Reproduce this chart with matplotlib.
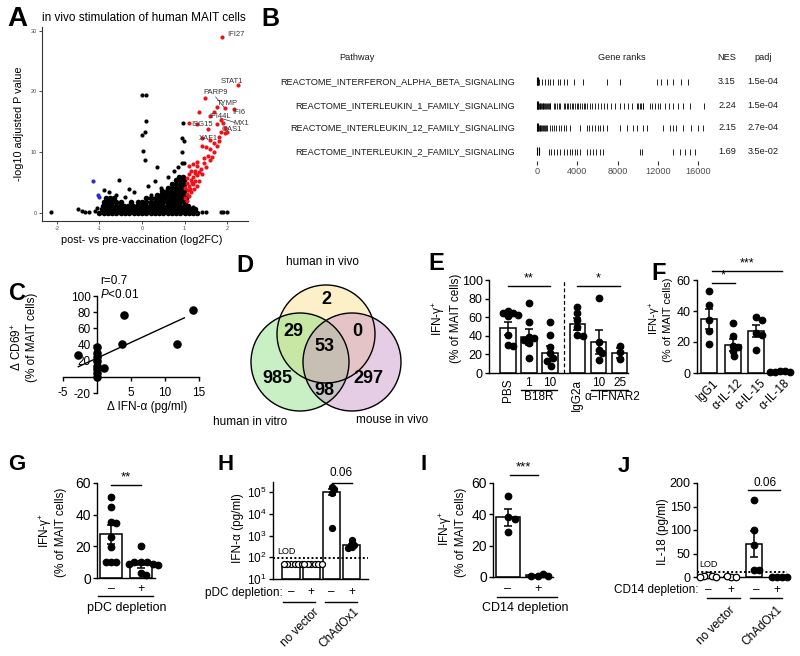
import numpy as np
import matplotlib
matplotlib.use('Agg')
import matplotlib.pyplot as plt
from matplotlib.patches import Circle

plt.rcParams['font.family'] = ['Liberation Sans', 'DejaVu Sans']
plt.rcParams['mathtext.fontset'] = 'custom'
plt.rcParams['mathtext.rm'] = 'Liberation Sans'
plt.rcParams['mathtext.it'] = 'Liberation Sans:italic'
plt.rcParams['mathtext.bf'] = 'Liberation Sans:bold'
plt.rcParams['axes.unicode_minus'] = False

# ================= DATA =================
# --- A: volcano ---
volc_up_x = [1.88, 2.25, 1.48, 1.75, 1.95, 2.15, 1.35, 1.10, 1.30, 1.60, 1.70, 1.75, 1.85, 1.90,
             1.95, 1.55, 1.85, 1.95, 2.00, 1.40, 1.60, 1.70, 1.80, 1.75, 1.60, 1.70, 1.65, 1.55,
             1.60, 1.45, 1.45, 1.30, 1.50, 1.20, 1.10, 1.15, 1.25, 1.35, 1.42, 1.30, 1.20, 1.10,
             1.05, 1.15, 1.25, 1.35, 1.05, 1.10, 1.20, 1.30, 1.02, 1.08, 1.15, 1.05, 1.10, 1.02,
             1.50, 1.80, 1.40, 1.25, 1.18, 1.38, 1.28, 1.12, 1.22, 1.06]
volc_up_y = [29.0, 21.0, 19.0, 17.5, 17.2, 17.1, 16.7, 14.8, 14.7, 15.9, 16.6, 14.6, 15.3, 14.8,
             14.0, 13.8, 13.4, 13.2, 13.3, 12.4, 12.0, 11.6, 11.8, 11.0, 10.5, 10.0, 9.3, 9.4,
             8.7, 9.0, 8.2, 7.8, 7.5, 8.0, 7.8, 7.0, 7.0, 6.8, 6.5, 6.2, 6.0, 6.5,
             5.8, 5.5, 5.3, 5.2, 5.0, 4.5, 4.8, 4.5, 4.2, 3.8, 3.5, 3.2, 2.8, 2.5,
             10.8, 12.5, 11.0, 6.6, 5.0, 7.2, 8.4, 4.0, 3.9, 2.0]
volc_dn_x = [-1.15, -1.03, -1.00]
volc_dn_y = [5.3, 3.0, 2.7]
volc_ns_x = [0.00, 0.10, 0.10, 0.06, 0.00, 0.03, 0.06, 0.97, 0.93, 0.98, 0.95, 0.93, 0.98,
             -0.55, 0.35, 0.30, 0.15, -0.30, -0.60, -0.90, -0.78, -0.20, 0.60, 0.75, 0.85,
             -2.15, -1.50, -1.42, -1.35, -1.25, -1.10, -1.05, 1.40, 1.50, 1.85, 1.90, 2.00,
             1.10, 1.20, -0.40, 0.45, 0.20]
volc_ns_y = [19.5, 19.5, 15.2, 13.3, 12.8, 10.2, 8.7, 14.8, 12.4, 11.8, 10.0, 8.3, 8.2,
             5.5, 7.5, 5.3, 4.5, 4.0, 3.0, 3.8, 3.5, 3.5, 6.0, 7.0, 7.6,
             0.1, 0.6, 0.3, 0.2, 0.1, 0.3, 0.8, 0.2, 0.1, 0.1, 0.2, 0.1,
             0.5, 1.0, 2.6, 4.2, 3.0]
# dense cloud of non-significant genes (read row by row)
cloud_x = [-1.0, -0.9, -0.8, -0.7, -0.6, -0.5, -0.4, -0.3, -0.2, -0.1, 0.0, 0.1, 0.2, 0.3, 0.4, 0.5,
           0.6, 0.7, 0.8, 0.9, 1.0, 1.1, 1.2, 1.3,
           -0.95, -0.85, -0.75, -0.65, -0.55, -0.45, -0.35, -0.25, -0.15, -0.05, 0.05, 0.15, 0.25,
           0.35, 0.45, 0.55, 0.65, 0.75, 0.85, 0.95, 1.05, 1.15, 1.25,
           -0.92, -0.82, -0.72, -0.62, -0.52, -0.42, -0.32, -0.22, -0.12, -0.02, 0.08, 0.18, 0.28,
           0.38, 0.48, 0.58, 0.68, 0.78, 0.88, 0.98, 1.08,
           -0.9, -0.8, -0.7, -0.6, -0.5, -0.25, -0.1, 0.0, 0.1, 0.2, 0.3, 0.4, 0.5, 0.6, 0.7, 0.8,
           0.9, 1.0,
           -0.85, -0.75, -0.65, 0.1, 0.22, 0.34, 0.45, 0.55, 0.65, 0.75, 0.85, 0.95, 1.03,
           0.35, 0.45, 0.55, 0.65, 0.75, 0.85, 0.95, 1.02,
           0.48, 0.58, 0.68, 0.78, 0.88, 0.98,
           0.6, 0.7, 0.8, 0.9, 0.99,
           0.7, 0.8, 0.9, 0.99,
           0.8, 0.9, 0.98,
           0.86, 0.96]
cloud_y = ([0.0] * 24 + [0.6] * 23 + [1.2] * 21 + [1.8] * 18 + [2.4] * 13 + [3.0] * 8 + [3.6] * 6 +
           [4.2] * 5 + [4.8] * 4 + [5.4] * 3 + [6.0] * 2)
gene_labels = ['IFI27', 'STAT1', 'PARP9', 'TYMP', 'IFI6', 'IFI44L', 'MX1', 'ISG15', 'OAS1', 'XAF1']
gene_label_x = [2.20, 2.10, 1.73, 2.00, 2.27, 1.83, 2.32, 1.40, 2.10, 1.55]
gene_label_y = [29.4, 21.6, 19.8, 18.0, 16.6, 15.9, 14.8, 14.6, 13.7, 12.3]

# --- B: GSEA table ---
pathways = ['REACTOME_INTERFERON_ALPHA_BETA_SIGNALING', 'REACTOME_INTERLEUKIN_1_FAMILY_SIGNALING',
            'REACTOME_INTERLEUKIN_12_FAMILY_SIGNALING', 'REACTOME_INTERLEUKIN_2_FAMILY_SIGNALING']
nes = ['3.15', '2.24', '2.15', '1.69']
padj = ['1.5e-04', '1.5e-04', '2.7e-04', '3.5e-02']
ranks_ifn = [0, 60, 120, 180, 500, 830, 1090, 1320, 1580, 2050, 2310, 2640, 2970, 3630, 4620, 6930,
             8250, 11880, 12280, 12870, 13530, 14350, 15020]
ranks_il1 = [0, 60, 120, 180, 250, 330, 420, 500, 560, 640, 720, 800, 880, 960, 1050, 1150, 1250, 1320,
             1650, 1800, 1950, 2150, 2310, 2640, 2800, 2970, 3100, 3300, 3465, 3600, 3800, 3950, 4100,
             4300, 4500, 4650, 4800, 5000, 5280, 5500, 5800, 6100, 6400, 6700, 7000, 7400, 7800, 8200,
             8600, 9000, 9400, 9900, 10065, 10200, 10350, 10500, 10560, 11200, 11400, 11700, 12000,
             12210, 12700, 13100, 13500, 14000, 14500, 15180, 16600, 16650, 16700]
ranks_il12 = [0, 80, 160, 250, 330, 420, 500, 600, 700, 800, 900, 990, 1320, 1500, 1700, 1900, 2150,
              2400, 2640, 2900, 3300, 4290, 4950, 5200, 5500, 5800, 6100, 6270, 6600, 6930, 8250, 8900,
              9570, 9900, 10560, 10900, 12540, 13200, 13530, 13860, 14520, 15350, 16000, 16500]
ranks_il2 = [0, 200, 1155, 1400, 1650, 1980, 2310, 2640, 2970, 3300, 3465, 3800, 4000, 4290, 4950,
             5300, 5600, 5900, 6270, 6600, 10230, 10400, 13530, 14190, 14700, 15180, 15680]
rank_ticks = [0, 4000, 8000, 12000, 16000]

# --- C: correlation ---
C_ifna = [-2.8, 0.0, 0.0, 0.0, 0.0, 0.0, 0.0, 0.0, 0.0, 1.0, 3.9, 3.7, 11.8, 14.1]
C_cd69 = [27, 37, 30, 25, 20, 13, 10, 5, 0, 11, 77, 41, 41, 83]
C_fit_x = [-2.75, 12.85]
C_fit_y = [12.5, 73.0]

# --- D: Venn ---
venn_sets = ['human in vivo', 'human in vitro', 'mouse in vivo']
venn_counts = {'100': 2, '110': 29, '101': 0, '111': 53, '010': 985, '011': 98, '001': 297}

# --- E ---
E_labels = ['PBS', '1', '10', 'IgG2a', '10', '25']
E_means = [48, 38.5, 21, 52.5, 33, 21.5]
E_sems = [7, 8.5, 7.5, 6.5, 13, 5]
E_points = [[67, 65, 64, 62.5, 61, 41, 30, 29], [75.7, 55, 39, 37.5, 35.7, 32, 16],
            [55, 41, 28, 21, 16, 12.5, 8], [71, 65, 57, 50, 41, 40], [81, 33, 25, 21, 14], [29, 23, 15]]

# --- F ---
F_labels = ['IgG1', 'α-IL-12', 'α-IL-15', 'α-IL-18']
F_means = [35, 18, 27, 1]
F_sems = [6.5, 4, 4, 0.3]
F_points = [[53, 44, 34, 27, 19], [32, 23.6, 17.6, 16.7, 14, 10.7], [36, 34, 25.7, 24.6, 15],
            [1.2, 1.0, 0.8, 0.5, 0.5]]

# --- G ---
G_labels = ['–', '+']
G_means = [27.5, 8.5]
G_sems = [6, 2]
G_points = [[51, 45, 35.5, 35, 26, 19.5, 10, 10, 10], [20, 10, 10, 10, 9, 9, 8, 3, 2]]

# --- H ---
H_labels = ['–', '+', '–', '+']
H_groups = ['no vector', 'ChAdOx1']
H_means = [50, 50, 105000, 360]
H_sems = [0, 0, 30000, 60]
H_points = [[50, 50, 50, 50, 50, 50], [50, 50, 50, 50, 50, 50], [170000, 140000, 90000, 2200],
            [600, 450, 350, 300, 280]]
H_open = [True, True, False, False]
H_lod = 90

# --- I ---
I_labels = ['–', '+']
I_means = [38, 1]
I_sems = [5.5, 0.4]
I_points = [[52, 38, 37, 29], [0.5, 2, 0.5, 0.5]]

# --- J ---
J_labels = ['–', '+', '–', '+']
J_groups = ['no vector', 'ChAdOx1']
J_means = [2, 0.5, 70, 0]
J_sems = [0, 0, 27, 0]
J_points = [[5, 3, 2, 0, 0], [0, 0, 2], [163, 100, 68, 15, 15], [0, 0, 0, 0]]
J_open = [True, True, False, False]
J_lod = 10

# ================= FIGURE =================
W, H = 800, 656
fig = plt.figure(figsize=(8, 6.56), dpi=100)


def add_ax(l, t, r, b):
    return fig.add_axes([l / W, 1 - b / H, (r - l) / W, (b - t) / H])


def ftext(x, y, s, **kw):
    kw.setdefault('ha', 'center')
    kw.setdefault('va', 'center')
    return fig.text(x / W, 1 - y / H, s, **kw)


def fline(x0, x1, y, lw=1.0, color='black'):
    fig.add_artist(plt.Line2D([x0 / W, x1 / W], [1 - y / H, 1 - y / H], lw=lw, color=color))


def prism_axes(ax, fs=9):
    for s in ['top', 'right']:
        ax.spines[s].set_visible(False)
    for s in ['left', 'bottom']:
        ax.spines[s].set_linewidth(1.0)
    ax.tick_params(axis='both', length=3, width=1.0, labelsize=fs, pad=1.5)


def swarm(ax, xc, vals, d, sep):
    placed, offs = [], []
    step = 0.2 * d
    cands = [0.0]
    for k in range(1, 60):
        cands += [k * step, -k * step]
    for v in vals:
        X, Y = ax.transData.transform((xc, v))
        X1, _ = ax.transData.transform((xc + 1, v))
        for c in cands:
            if all((X + c - px) ** 2 + (Y - py) ** 2 >= (sep * d) ** 2 for px, py in placed):
                break
        placed.append((X + c, Y))
        offs.append(c / (X1 - X))
    return np.array(offs)


def bar_panel(ax, xs, means, sems, pts, width, open_flags=None, dot=6.5, sep=0.85, bottom=0):
    for i, x in enumerate(xs):
        ax.bar(x, means[i] - bottom, width, bottom=bottom, facecolor='white', edgecolor='black',
               linewidth=1.1, zorder=2)
        offs = swarm(ax, x, pts[i], dot, sep)
        op = open_flags[i] if open_flags else False
        ax.scatter(x + offs, pts[i], s=(dot * 0.72) ** 2, facecolor='white' if op else 'black',
                   edgecolor='black', linewidths=0.9, zorder=3, clip_on=False)
        if sems[i] > 0:
            ax.errorbar(x, means[i], yerr=sems[i], fmt='none', ecolor='black', elinewidth=1.1,
                        capsize=3, capthick=1.1, zorder=4)


# ---------- Panel letters ----------
for L, x, y, fs in [('A', 17, 19, 20), ('B', 270, 19, 18), ('C', 17, 293, 17), ('D', 245, 265, 17),
                    ('E', 436, 264, 17), ('F', 659, 273, 17), ('G', 17, 465, 16), ('H', 226, 465, 16),
                    ('I', 424, 465, 16), ('J', 624, 466, 16)]:
    ftext(x, y, L, fontsize=fs, fontweight='bold')

# ---------- A ----------
axA = add_ax(42, 27, 248, 221)
axA.set_xlim(-2.35, 2.49)
axA.set_ylim(-1.3, 30.6)
axA.scatter(cloud_x, cloud_y, s=16, c='black', lw=0, zorder=2)
axA.scatter(volc_ns_x, volc_ns_y, s=9, c='black', lw=0, zorder=2)
axA.scatter(volc_up_x, volc_up_y, s=9, c='#E8141B', lw=0, zorder=3)
axA.scatter(volc_dn_x, volc_dn_y, s=9, c='#2B2BD0', lw=0, zorder=3)
for g, x, y in zip(gene_labels, gene_label_x, gene_label_y):
    axA.text(x, y, g, fontsize=5.5, color='#333333', ha='center', va='center', zorder=4)
axA.plot([1.73, 1.93], [19.1, 17.4], color='#333333', lw=0.5)
axA.plot([2.18, 1.85], [14.9, 15.6], color='#333333', lw=0.5)
for s in ['top', 'right']:
    axA.spines[s].set_visible(False)
for s in ['left', 'bottom']:
    axA.spines[s].set_color('#333333')
    axA.spines[s].set_linewidth(0.8)
axA.set_xticks([-2, -1, 0, 1, 2])
axA.set_yticks([0, 10, 20, 30])
axA.tick_params(length=2, width=0.6, color='#333333', labelsize=4, labelcolor='#4d4d4d', pad=1.5)
ftext(42, 18, 'in vivo stimulation of human MAIT cells', fontsize=8.5, ha='left')
ftext(142, 240, 'post- vs pre-vaccination (log2FC)', fontsize=7.8)
ftext(19, 124, '-log10 adjusted P value', fontsize=7.8, rotation=90)

# ---------- B ----------
row_y = [82, 106, 128, 152]
ftext(357, 58, 'Pathway', fontsize=6.6, color='#1a1a1a')
ftext(622, 58, 'Gene ranks', fontsize=6.6, color='#1a1a1a')
ftext(727, 58, 'NES', fontsize=6.6, color='#1a1a1a')
ftext(763, 58, 'padj', fontsize=6.6, color='#1a1a1a')
for i, y in enumerate(row_y):
    ftext(515, y, pathways[i], fontsize=6.6, ha='right', color='#1a1a1a')
    ftext(727, y, nes[i], fontsize=6.6, color='#1a1a1a')
    ftext(763, y, padj[i], fontsize=6.6, color='#1a1a1a')
axB = add_ax(530, 70, 705, 180)
per_px = 16000 / 161.0
axB.set_xlim(-7 * per_px, 16000 + 7 * per_px)
axB.set_ylim(180, 70)
axB.axis('off')
for y, rk in zip(row_y, [ranks_ifn, ranks_il1, ranks_il12, ranks_il2]):
    axB.vlines(rk, y - 3, y + 3, color='black', lw=0.6)
    axB.vlines(rk[:2], y - 5, y + 3, color='black', lw=0.8)
axB.vlines(rank_ticks, 161, 165, color='#333333', lw=0.8)
for t in rank_ticks:
    axB.text(t, 172, str(t), fontsize=6.6, color='#4d4d4d', ha='center', va='center')

# ---------- C ----------
axC = add_ax(63, 296, 199, 393)
axC.set_xlim(-5, 15)
axC.set_ylim(-20, 100)
axC.spines['left'].set_position(('data', 0))
axC.spines['bottom'].set_position(('data', 0))
prism_axes(axC, fs=8.5)
axC.set_xticks([-5, 5, 10, 15])
axC.set_yticks([-20, 20, 40, 60, 80, 100])
axC.tick_params(axis='x', pad=4)
axC.scatter(C_ifna, C_cd69, s=38, c='black', lw=0, zorder=3, clip_on=False)
axC.plot(C_fit_x, C_fit_y, color='black', lw=1.0)
ftext(100, 281, 'r=0.7', fontsize=8.5, ha='left')
ftext(100, 294, '$\\it{P}$<0.01', fontsize=8.5, ha='left')
ftext(147, 407, 'Δ IFN-α (pg/ml)', fontsize=8.5)
ftext(17, 347, 'Δ CD69$^{+}$', fontsize=8.5, rotation=90)
ftext(32, 337, '(% of MAIT cells)', fontsize=8.5, rotation=90)

# ---------- D ----------
axD = add_ax(210, 245, 440, 430)
axD.set_xlim(210, 440)
axD.set_ylim(430, 245)
axD.axis('off')
centres = [(326, 334), (300, 362), (352, 362)]
cols = ['#FBDC87', '#87DE7C', '#C890C8']
for (cx, cy), col in zip(centres, cols):
    axD.add_patch(Circle((cx, cy), 49, facecolor=col, alpha=0.45, edgecolor='none'))
for (cx, cy) in centres:
    axD.add_patch(Circle((cx, cy), 49, facecolor='none', edgecolor='black', lw=1.0))
pos_map = {'100': (326, 300), '110': (293, 332), '101': (357, 332), '111': (324, 347),
           '010': (277, 379), '011': (324, 391), '001': (368, 379)}
for k, v in venn_counts.items():
    axD.text(*pos_map[k], str(v), fontsize=13, fontweight='bold', ha='center', va='center')
ftext(323, 262, venn_sets[0], fontsize=8.5)
ftext(250, 422, venn_sets[1], fontsize=8.5)
ftext(392, 420, venn_sets[2], fontsize=8.5)

# ---------- E ----------
axE = add_ax(489, 280, 628, 373)
E_x = [0, 1, 2, 3.3, 4.3, 5.3]
axE.set_xlim(-0.9, 5.7)
axE.set_ylim(0, 100)
prism_axes(axE, fs=9)
axE.set_xticks([])
axE.set_yticks([0, 20, 40, 60, 80, 100])
bar_panel(axE, E_x, E_means, E_sems, E_points, 0.72, dot=6.5, sep=0.8)
axE.axvline(2.65, color='black', lw=0.9, ls=(0, (3, 2)))
axE.plot([0, 2], [93.5, 93.5], color='black', lw=1.0, clip_on=False)
axE.text(1, 95, '**', fontsize=9, ha='center', va='bottom')
axE.plot([3.3, 5.3], [93.5, 93.5], color='black', lw=1.0, clip_on=False)
axE.text(4.3, 95, '*', fontsize=9, ha='center', va='bottom')
ftext(508, 379, E_labels[0], fontsize=8.5, rotation=90, va='top')
ftext(577, 379, E_labels[3], fontsize=8.5, rotation=90, va='top')
for xp, lab in zip([528, 550, 599, 620], [E_labels[1], E_labels[2], E_labels[4], E_labels[5]]):
    ftext(xp, 383, lab, fontsize=8.5)
fline(521, 557, 390)
fline(591, 628, 390)
ftext(539, 397, 'B18R', fontsize=8.5)
ftext(612, 397, 'α−IFNAR2', fontsize=8.5)
ftext(439, 318, 'IFN-γ$^{+}$', fontsize=8.5, rotation=90)
ftext(456, 318, '(% of MAIT cells)', fontsize=8.5, rotation=90)

# ---------- F ----------
axF = add_ax(697, 280, 790, 373)
F_x = [0, 1, 2, 3]
axF.set_xlim(-0.5, 3.42)
axF.set_ylim(0, 60)
prism_axes(axF, fs=9)
axF.set_xticks([])
axF.set_yticks([0, 20, 40, 60])
bar_panel(axF, F_x, F_means, F_sems, F_points, 0.68, dot=6.5, sep=0.8)
axF.plot([0.13, 1.1], [58, 58], color='black', lw=1.0, clip_on=False)
axF.text(0.6, 59, '*', fontsize=9, ha='center', va='bottom')
axF.plot([0.13, 3.1], [65.5, 65.5], color='black', lw=1.0, clip_on=False)
axF.text(1.6, 66.5, '***', fontsize=9, ha='center', va='bottom')
for xp, lab in zip([713, 737, 760, 784], F_labels):
    ftext(xp, 377, lab, fontsize=8.5, rotation=45, ha='right', va='top', rotation_mode='anchor')
ftext(655, 318, 'IFN-γ$^{+}$', fontsize=8, rotation=90)
ftext(668, 320, '(% of MAIT cells)', fontsize=8, rotation=90)

# ---------- G ----------
axG = add_ax(97, 483, 155, 578)
axG.set_xlim(-0.47, 1.47)
axG.set_ylim(0, 60)
prism_axes(axG, fs=10)
axG.set_xticks([])
axG.set_yticks([0, 20, 40, 60])
bar_panel(axG, [0, 1], G_means, G_sems, G_points, 0.73, dot=6.5, sep=0.8)
axG.plot([0, 1], [58.5, 58.5], color='black', lw=1.0, clip_on=False)
axG.text(0.5, 59.5, '**', fontsize=9.5, ha='center', va='bottom')
ftext(111, 589, G_labels[0], fontsize=9)
ftext(141, 589, G_labels[1], fontsize=9)
fline(98, 153, 596)
ftext(127, 608, 'pDC depletion', fontsize=9)
ftext(46, 530, 'IFN-γ$^{+}$', fontsize=8.5, rotation=90)
ftext(61, 532, '(% of MAIT cells)', fontsize=8.5, rotation=90)

# ---------- H ----------
axH = add_ax(273, 482, 368, 579)
axH.set_yscale('log')
axH.set_xlim(-0.89, 3.8)
axH.set_ylim(10, 10 ** 5.46)
prism_axes(axH, fs=8.5)
axH.set_xticks([])
axH.set_yticks([10, 100, 1000, 1e4, 1e5])
axH.tick_params(axis='y', which='minor', length=1.5, width=0.6)
bar_panel(axH, [0, 1, 2, 3], H_means, H_sems, H_points, 0.85, open_flags=H_open, dot=6.0,
          sep=0.45, bottom=10)
axH.axhline(H_lod, color='black', lw=1.4, ls=(0, (1, 1.2)), zorder=5)
axH.text(-0.7, H_lod * 1.25, 'LOD', fontsize=6.5, ha='left', va='bottom')
axH.plot([2, 3], [10 ** 5.42, 10 ** 5.42], color='black', lw=1.0, clip_on=False)
ftext(341, 473, '0.06', fontsize=8.5)
for xp, lab in zip([291, 311, 331, 352], H_labels):
    ftext(xp, 592, lab, fontsize=8.5)
ftext(283, 593, 'pDC depletion:', fontsize=8.5, ha='right')
fline(283, 315, 602)
fline(325, 357, 602)
ftext(313, 606, H_groups[0], fontsize=8.5, rotation=45, ha='right', va='top', rotation_mode='anchor')
ftext(353, 606, H_groups[1], fontsize=8.5, rotation=45, ha='right', va='top', rotation_mode='anchor')
ftext(238, 528, 'IFN-α (pg/ml)', fontsize=8.5, rotation=90)

# ---------- I ----------
axI = add_ax(493, 483, 553, 577)
axI.set_xlim(-0.5, 1.5)
axI.set_ylim(0, 60)
prism_axes(axI, fs=10)
axI.set_xticks([])
axI.set_yticks([0, 20, 40, 60])
bar_panel(axI, [0, 1], I_means, I_sems, I_points, 0.77, dot=6.5, sep=0.85)
axI.plot([0.07, 1.0], [65, 65], color='black', lw=1.0, clip_on=False)
axI.text(0.52, 66, '***', fontsize=9.5, ha='center', va='bottom')
ftext(508, 589, I_labels[0], fontsize=9)
ftext(538, 589, I_labels[1], fontsize=9)
fline(497, 557, 597)
ftext(525, 608, 'CD14 depletion', fontsize=9)
ftext(446, 528, 'IFN-γ$^{+}$', fontsize=8.5, rotation=90)
ftext(461, 532, '(% of MAIT cells)', fontsize=8.5, rotation=90)

# ---------- J ----------
axJ = add_ax(697, 483, 785, 577)
axJ.set_xlim(-0.48, 3.35)
axJ.set_ylim(0, 200)
prism_axes(axJ, fs=9)
axJ.set_xticks([])
axJ.set_yticks([0, 50, 100, 150, 200])
bar_panel(axJ, [0, 1, 2, 3], J_means, J_sems, J_points, 0.7, open_flags=J_open, dot=6.5, sep=0.6)
axJ.axhline(J_lod, color='black', lw=1.4, ls=(0, (1, 1.2)), zorder=5, xmax=1.02, clip_on=False)
axJ.text(0.0, J_lod + 8, 'LOD', fontsize=6.5, ha='center', va='bottom')
axJ.plot([1.75, 3.15], [185, 185], color='black', lw=1.0, clip_on=False)
ftext(765, 483, '0.06', fontsize=8.5)
for xp, lab in zip([708, 731, 756, 777], J_labels):
    ftext(xp, 590, lab, fontsize=8.5)
ftext(698, 590, 'CD14 depletion:', fontsize=8.5, ha='right')
fline(707, 740, 598)
fline(750, 782, 598)
ftext(729, 604, J_groups[0], fontsize=8.5, rotation=45, ha='right', va='top', rotation_mode='anchor')
ftext(776, 604, J_groups[1], fontsize=8.5, rotation=45, ha='right', va='top', rotation_mode='anchor')
ftext(663, 532, 'IL-18 (pg/ml)', fontsize=8.5, rotation=90)

fig.savefig('out.png', dpi=100)
